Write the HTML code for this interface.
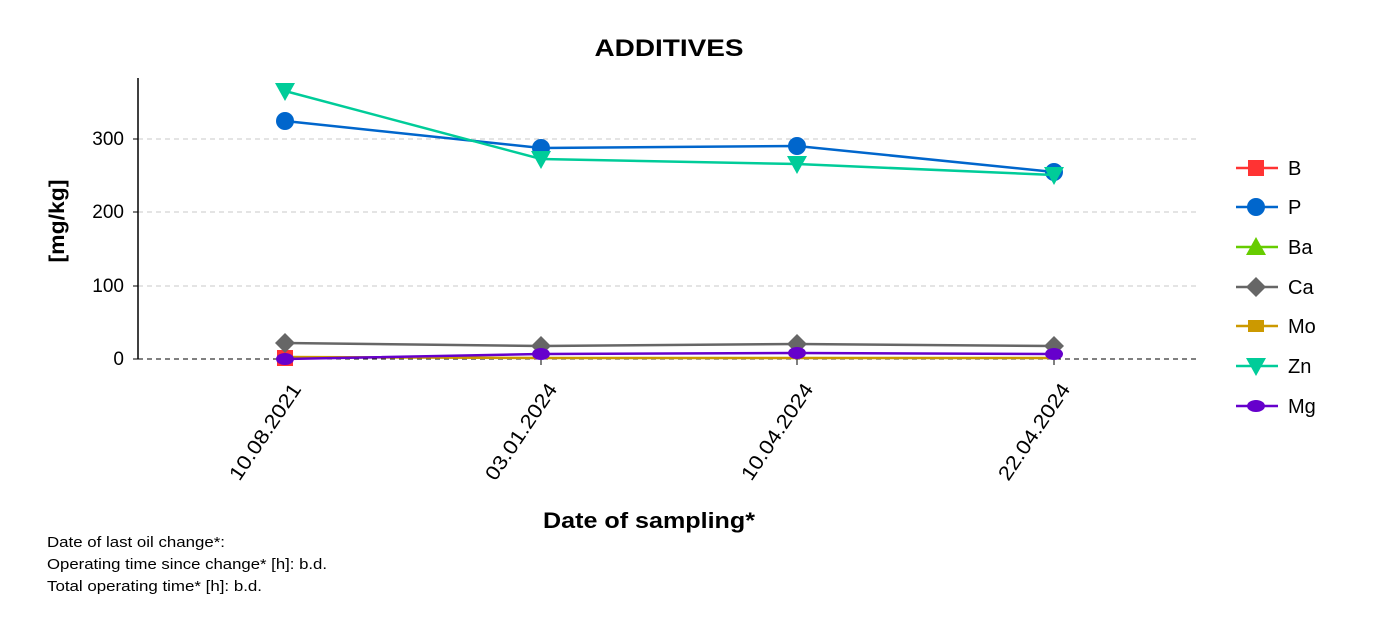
<!DOCTYPE html><html><head><style>body{margin:0;background:#fff}svg{display:block;font-family:"Liberation Sans",Arial,sans-serif}</style></head><body>
<svg width="1378" height="643" viewBox="0 0 1378 643">
<text x="669" y="56" text-anchor="middle" font-size="24" font-weight="bold" textLength="149" lengthAdjust="spacingAndGlyphs">ADDITIVES</text>
<g stroke="#c8c8c8" stroke-dasharray="5,4" stroke-width="1">
<line x1="138" x2="1200" y1="139" y2="139"/><line x1="138" x2="1200" y1="212" y2="212"/><line x1="138" x2="1200" y1="286" y2="286"/></g>
<line x1="138" x2="1200" y1="359" y2="359" stroke="#000" stroke-dasharray="5,4"/>
<line x1="138" x2="138" y1="78" y2="359" stroke="#000" stroke-width="1.5"/>
<g stroke="#000"><line x1="133" x2="138" y1="139" y2="139"/><line x1="133" x2="138" y1="212" y2="212"/><line x1="133" x2="138" y1="286" y2="286"/><line x1="133" x2="138" y1="359" y2="359"/>
<line x1="285" x2="285" y1="359" y2="365"/><line x1="541" x2="541" y1="359" y2="365"/><line x1="797" x2="797" y1="359" y2="365"/><line x1="1054" x2="1054" y1="359" y2="365"/></g>
<g font-size="19" text-anchor="end"><text x="124" y="145">300</text><text x="124" y="218">200</text><text x="124" y="292">100</text><text x="124" y="365">0</text></g>
<text transform="translate(64,221) rotate(-90)" text-anchor="middle" font-size="21" font-weight="bold" textLength="83" lengthAdjust="spacingAndGlyphs">[mg/kg]</text>
<g font-size="20" text-anchor="end">
<text transform="translate(302,389) rotate(-56)" textLength="112" lengthAdjust="spacingAndGlyphs">10.08.2021</text>
<text transform="translate(558,389) rotate(-56)" textLength="112" lengthAdjust="spacingAndGlyphs">03.01.2024</text>
<text transform="translate(814,389) rotate(-56)" textLength="112" lengthAdjust="spacingAndGlyphs">10.04.2024</text>
<text transform="translate(1071,389) rotate(-56)" textLength="112" lengthAdjust="spacingAndGlyphs">22.04.2024</text></g>
<text x="543" y="528" font-size="22" font-weight="bold" textLength="212" lengthAdjust="spacingAndGlyphs">Date of sampling*</text>
<g font-size="15"><text x="47" y="547" textLength="178" lengthAdjust="spacingAndGlyphs">Date of last oil change*:</text><text x="47" y="569" textLength="280" lengthAdjust="spacingAndGlyphs">Operating time since change* [h]: b.d.</text><text x="47" y="591" textLength="215" lengthAdjust="spacingAndGlyphs">Total operating time* [h]: b.d.</text></g>
<polyline points="285,357 541,358 797,358 1054,358" fill="none" stroke="#cc9900" stroke-width="2.5"/>
<rect x="277" y="350" width="16" height="16" fill="#ff3333"/>
<polyline points="285,343 541,346 797,344 1054,346" fill="none" stroke="#666" stroke-width="2.5"/>
<g fill="#666"><path d="M285,333 l10,10 -10,10 -10,-10z"/><path d="M541,336 l10,10 -10,10 -10,-10z"/><path d="M797,334 l10,10 -10,10 -10,-10z"/><path d="M1054,336 l10,10 -10,10 -10,-10z"/></g>
<polyline points="285,359 541,354 797,353 1054,354" fill="none" stroke="#6600cc" stroke-width="2.5"/>
<g fill="#6600cc"><ellipse cx="285" cy="359" rx="9" ry="6"/><ellipse cx="541" cy="354" rx="9" ry="6"/><ellipse cx="797" cy="353" rx="9" ry="6"/><ellipse cx="1054" cy="354" rx="9" ry="6"/></g>
<polyline points="285,121 541,148 797,146 1054,172" fill="none" stroke="#0066cc" stroke-width="2.5"/>
<g fill="#0066cc"><circle cx="285" cy="121" r="9"/><circle cx="541" cy="148" r="9"/><circle cx="797" cy="146" r="9"/><circle cx="1054" cy="172" r="9"/></g>
<polyline points="285,91 541,159 797,164 1054,175" fill="none" stroke="#00cc99" stroke-width="2.5"/>
<g fill="#00cc99"><path d="M275,83 h20 l-10,18z"/><path d="M531,151 h20 l-10,18z"/><path d="M787,156 h20 l-10,18z"/><path d="M1044,167 h20 l-10,18z"/></g>
<g stroke-width="2.5" font-size="20">
<line x1="1236" x2="1278" y1="168" y2="168" stroke="#ff3333"/><rect x="1248" y="160" width="16" height="16" fill="#ff3333"/><text x="1288" y="175">B</text>
<line x1="1236" x2="1278" y1="207" y2="207" stroke="#0066cc"/><circle cx="1256" cy="207" r="9" fill="#0066cc"/><text x="1288" y="214">P</text>
<line x1="1236" x2="1278" y1="247" y2="247" stroke="#66cc00"/><path d="M1256,237 l10,18 h-20z" fill="#66cc00"/><text x="1288" y="254">Ba</text>
<line x1="1236" x2="1278" y1="287" y2="287" stroke="#666"/><path d="M1256,277 l10,10 -10,10 -10,-10z" fill="#666"/><text x="1288" y="294">Ca</text>
<line x1="1236" x2="1278" y1="326" y2="326" stroke="#cc9900"/><rect x="1248" y="320" width="16" height="12" fill="#cc9900"/><text x="1288" y="333">Mo</text>
<line x1="1236" x2="1278" y1="366" y2="366" stroke="#00cc99"/><path d="M1246,358 h20 l-10,18z" fill="#00cc99"/><text x="1288" y="373">Zn</text>
<line x1="1236" x2="1278" y1="406" y2="406" stroke="#6600cc"/><ellipse cx="1256" cy="406" rx="9" ry="6" fill="#6600cc"/><text x="1288" y="413">Mg</text>
</g>
</svg></body></html>
